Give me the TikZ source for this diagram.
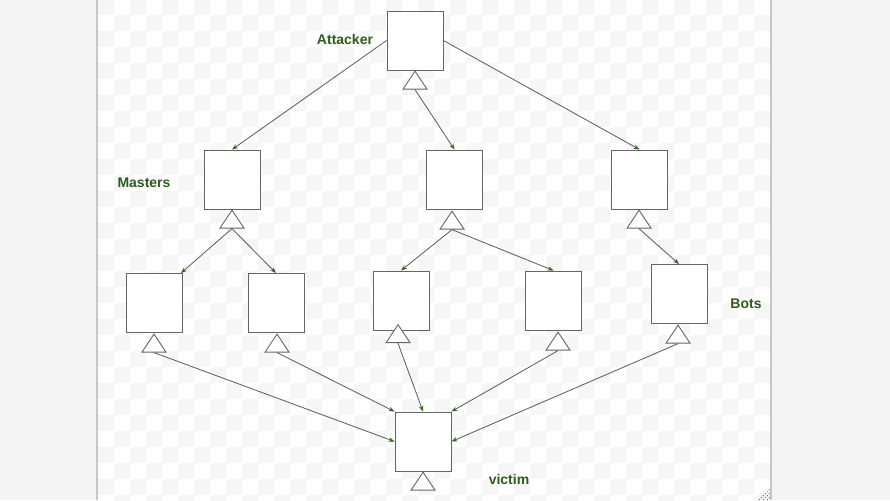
\documentclass[tikz,border=0pt]{standalone}
\usepackage{fontspec}
\setmainfont{Liberation Sans}
\usepackage{xcolor}
\usetikzlibrary{arrows.meta, shapes.geometric}
\definecolor{lblgreen}{HTML}{2E5C1E}
\definecolor{tipgreen}{HTML}{2F6A1F}
\definecolor{edgegray}{HTML}{666666}
\definecolor{linegray}{HTML}{5A5A5A}
\definecolor{checkgray}{HTML}{F6F6F6}
\definecolor{outergray}{HTML}{F4F4F4}

\begin{document}
\begin{tikzpicture}[x=1pt, y=-1pt,
  box/.style={draw=edgegray, fill=white, line width=0.9pt, minimum width=56pt, minimum height=59pt, inner sep=0pt},
  tri/.style={draw=edgegray, fill=white, line width=0.9pt, isosceles triangle, isosceles triangle stretches,
    shape border rotate=90, minimum width=24pt, minimum height=18pt, inner sep=0pt, anchor=apex},
  con/.style={draw=linegray, line width=0.8pt, -{Stealth[length=6pt, width=4.5pt, color=tipgreen]}},
  lbl/.style={text=lblgreen, font=\bfseries\fontsize{14}{16}\selectfont, inner sep=0pt}]
  \useasboundingbox (0,0) rectangle (890,500);
  \fill[outergray] (0,0) rectangle (890,500);

  % canvas
  \begin{scope}
    \clip (98,0) rectangle (771,500);
    \fill[white] (98,0) rectangle (771,500);
    \foreach \i in {0,...,42} {
      \foreach \j in {0,...,31} {
        \pgfmathparse{int(mod(\i+\j,2))}
        \ifnum\pgfmathresult=0
          \fill[checkgray] ({98+16*\i},{-1+16*\j}) rectangle ++(16,16);
        \fi
      }
    }
  \end{scope}
  \draw[gray!45, line width=1.5pt] (97,0) -- (97,500);
  \draw[gray!45, line width=1.5pt] (771,0) -- (771,500);
  \foreach \d in {0,4,8}
    \draw[tipgreen, line width=0.8pt, dotted] ({759+\d},500) -- (770,{489+\d});

  % boxes
  \node[box] (att) at (415,40.5) {};
  \node[box] (m1) at (232,179.5) {};
  \node[box] (m2) at (454.5,179.5) {};
  \node[box] (m3) at (639.5,179.5) {};
  \node[box] (b1) at (154.5,303) {};
  \node[box] (b2) at (276,303) {};
  \node[box] (b3) at (401,300.5) {};
  \node[box] (b4) at (553.5,300.5) {};
  \node[box] (b5) at (679,294) {};
  \node[box] (vic) at (423,441.5) {};

  % triangles
  \node[tri] (attT) at (415,70) {};
  \node[tri] (m1T) at (232,209) {};
  \node[tri] (m2T) at (452,210) {};
  \node[tri] (m3T) at (639,209) {};
  \node[tri] (b1T) at (154,333) {};
  \node[tri] (b2T) at (277,333) {};
  \node[tri] (b3T) at (398,323.5) {};
  \node[tri] (b4T) at (558,331) {};
  \node[tri] (b5T) at (678,324) {};
  \node[tri] (vicT) at (423,471) {};

  % labels
  \node[lbl] (lblAtt) at (345,39) {Attacker};
  \node[lbl] (lblMas) at (144,183) {Masters};
  \node[lbl] (lblBots) at (746,304) {Bots};
  \node[lbl] (lblVic) at (509,479) {victim};

  \draw[con] (att.west) -- (m1.north);
  \draw[con] (attT.lower side) -- (m2.north);
  \draw[con] (att.east) -- (m3.north);

  \draw[con] (m1T.lower side) -- ([xshift=-2pt]b1.north east);
  \draw[con] (m1T.lower side) -- (b2.north);
  \draw[con] (m2T.lower side) -- (b3.north);
  \draw[con] (m2T.lower side) -- (b4.north);
  \draw[con] (m3T.lower side) -- (b5.north);

  \draw[con] (b1T.lower side) -- (vic.west);
  \draw[con] (b2T.lower side) -- (vic.north west);
  \draw[con] (b3T.lower side) -- (vic.north);
  \draw[con] (b4T.lower side) -- (vic.north east);
  \draw[con] (b5T.lower side) -- (vic.east);
\end{tikzpicture}
\end{document}
